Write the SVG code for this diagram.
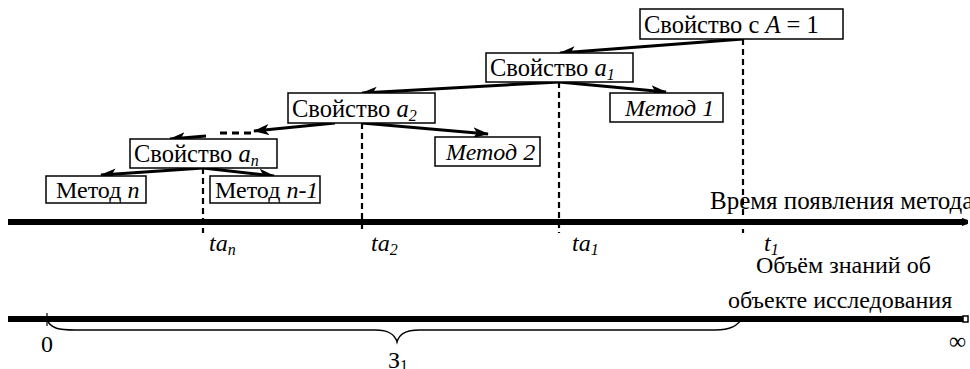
<svg xmlns="http://www.w3.org/2000/svg" width="970" height="369" viewBox="0 0 970 369" font-family="'Liberation Serif', 'Times New Roman', serif">
  <defs>
    <marker id="arrow" markerUnits="userSpaceOnUse" markerWidth="18" markerHeight="12" refX="15" refY="6" orient="auto">
      <path d="M0,0.5 L16,6 L0,11.5 L4,6 Z" fill="#000"/>
    </marker>
    <style>
      text { font-family: "Liberation Serif", "Times New Roman", serif; font-size: 24px; fill: #000; }
      .n { font-size: 24.5px; }
      .m { font-size: 24px; }
      .i { font-style: italic; }
      .sub { font-size: 16px; }
      .box { fill: #fff; stroke: #000; stroke-width: 1.5; }
      .arr { stroke: #000; stroke-width: 3; fill: none; marker-end: url(#arrow); }
      .dash { stroke: #000; stroke-width: 2.2; stroke-dasharray: 6 4; fill: none; }
      .axis { stroke: #000; stroke-width: 6; fill: none; }
    </style>
  </defs>

  <!-- time markers dropped from each property onto the time axis -->
  <g id="ticks">
    <line class="dash" x1="743" y1="39" x2="743" y2="233"/>
    <line class="dash" x1="559" y1="82" x2="559" y2="233"/>
    <line class="dash" x1="362" y1="123" x2="362" y2="233"/>
    <line class="dash" x1="203" y1="168" x2="203" y2="233"/>
  </g>

  <!-- axes -->
  <g id="axis-time">
    <line class="axis" x1="8" y1="222" x2="964" y2="222"/>
    <path d="M962,218 L968,220 L968,224 L962,226 Z" fill="#000"/>
    <text x="710" y="209" style="font-size:25px">Время появления метода</text>
  </g>
  <g id="axis-knowledge">
    <line class="axis" x1="8" y1="319" x2="964" y2="319"/>
    <rect x="963" y="316" width="5" height="6" fill="#fff" stroke="#000" stroke-width="1.5"/>
    <line x1="47" y1="313" x2="47" y2="326" stroke="#000" stroke-width="1.2"/>
    <text x="756" y="273">Объём знаний об</text>
    <text x="728" y="308">объекте исследования</text>
    <text x="41" y="352">0</text>
    <text x="949" y="349">∞</text>
    <path d="M47,319 C50,329 60,330 75,330 L375,330 C390,330 395,335 397,342 C399,335 404,330 420,330 L715,330 C730,330 738,326 743,317" fill="none" stroke="#000" stroke-width="1.5"/>
    <text x="388" y="368">З<tspan class="sub" dy="3">1</tspan></text>
  </g>

  <!-- tick labels -->
  <g id="labels">
    <text class="i" x="209" y="251">ta<tspan class="sub" dy="4">n</tspan></text>
    <text class="i" x="371" y="251">ta<tspan class="sub" dy="4">2</tspan></text>
    <text class="i" x="572" y="251">ta<tspan class="sub" dy="4">1</tspan></text>
    <text class="i" x="764" y="251">t<tspan class="sub" dy="4">1</tspan></text>
  </g>

  <!-- connectors -->
  <g id="connectors">
    <line class="arr" x1="743" y1="39" x2="560" y2="53"/>
    <line class="arr" x1="559" y1="82" x2="362" y2="93"/>
    <line class="arr" x1="559" y1="82" x2="666" y2="92"/>
    <line class="arr" x1="335" y1="123" x2="254" y2="131"/>
    <line class="arr" x1="362" y1="123" x2="488" y2="134"/>
    <line x1="220" y1="133" x2="251" y2="133" stroke="#000" stroke-width="3" stroke-dasharray="7 5"/>
    <line class="arr" x1="206" y1="136" x2="170" y2="139"/>
    <line class="arr" x1="203" y1="168" x2="101" y2="175"/>
    <line class="arr" x1="203" y1="168" x2="274" y2="176"/>
  </g>

  <!-- nodes -->
  <g id="prop-A">
    <rect class="box" x="640" y="9" width="203" height="30"/>
    <text class="n" x="644" y="33">Свойство с <tspan class="i">A</tspan> = 1</text>
  </g>
  <g id="prop-a1">
    <rect class="box" x="486" y="53" width="147" height="29"/>
    <text class="n" x="490" y="76">Свойство <tspan class="i">a</tspan><tspan class="i sub" dy="4">1</tspan></text>
  </g>
  <g id="method-1">
    <rect class="box" x="610" y="93" width="113" height="29"/>
    <text class="m i" x="625" y="116">Метод 1</text>
  </g>
  <g id="prop-a2">
    <rect class="box" x="288" y="93" width="147" height="30"/>
    <text class="n" x="292" y="117">Свойство <tspan class="i">a</tspan><tspan class="i sub" dy="4">2</tspan></text>
  </g>
  <g id="method-2">
    <rect class="box" x="435" y="137" width="105" height="29"/>
    <text class="m i" x="446" y="160">Метод 2</text>
  </g>
  <g id="prop-an">
    <rect class="box" x="130" y="139" width="147" height="29"/>
    <text class="n" x="134" y="162">Свойство <tspan class="i">a</tspan><tspan class="i sub" dy="4">n</tspan></text>
  </g>
  <g id="method-n">
    <rect class="box" x="46" y="176" width="100" height="27"/>
    <text class="m" x="56" y="198">Метод <tspan class="i">n</tspan></text>
  </g>
  <g id="method-n-1">
    <rect class="box" x="210" y="176" width="110" height="27"/>
    <text class="m" x="215" y="198">Метод <tspan class="i">n-1</tspan></text>
  </g>
</svg>
